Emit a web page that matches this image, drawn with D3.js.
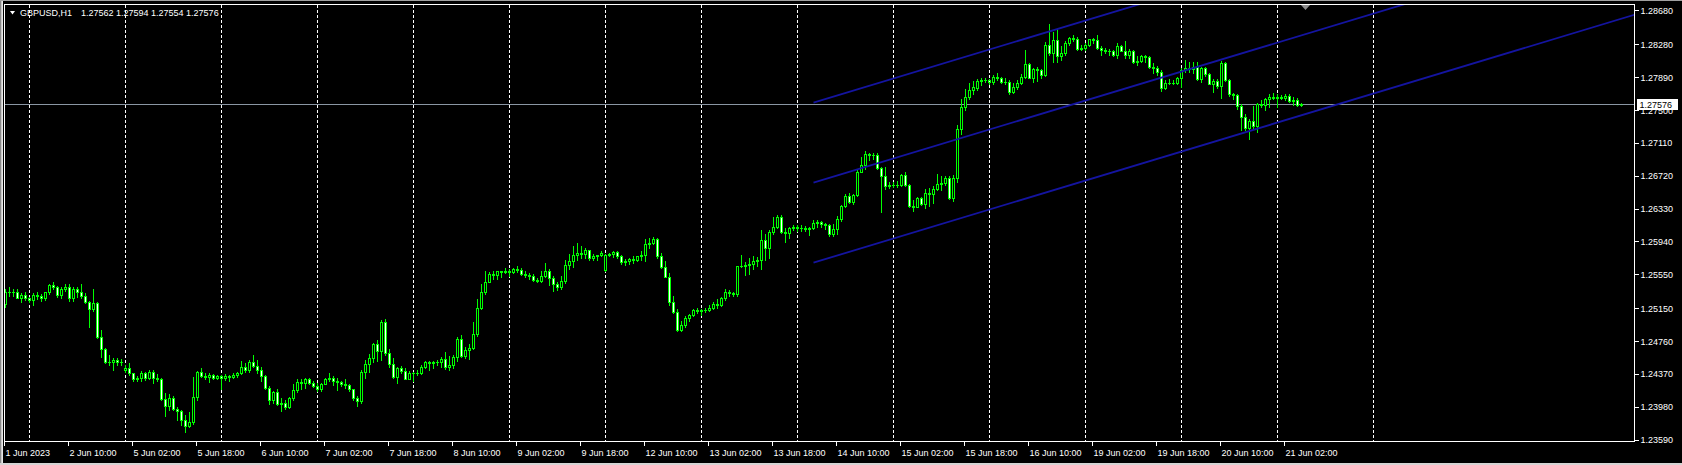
<!DOCTYPE html>
<html><head><meta charset="utf-8">
<script src="https://cdn.jsdelivr.net/npm/d3@7"></script>
<style>
html,body{margin:0;padding:0;background:#000;overflow:hidden}
svg{display:block}
text{font-family:"Liberation Sans",Arial,sans-serif;font-size:9px;fill:#fff}
</style>
</head><body><svg id="c" width="1682" height="465"></svg>
<script>
// ---- data: GBPUSD H1 candles (bar 0 = 1 Jun 2023 18:00) ----
const opens=[
1.2520,1.2535,1.2535,1.2535,1.2528,1.2531,1.2528,1.2525,1.2531,1.2530,
1.2528,1.2534,1.2543,1.2541,1.2531,1.2538,1.2540,1.2527,1.2538,1.2534,
1.2530,1.2523,1.2514,1.2522,1.2481,1.2467,1.2451,1.2452,1.2454,1.2452,
1.2442,1.2445,1.2438,1.2431,1.2432,1.2438,1.2432,1.2440,1.2432,1.2431,
1.2408,1.2399,1.2409,1.2396,1.2393,1.2383,1.2376,1.2380,1.2410,1.2440,
1.2435,1.2434,1.2436,1.2432,1.2435,1.2433,1.2435,1.2434,1.2436,1.2438,
1.2446,1.2442,1.2452,1.2447,1.2442,1.2435,1.2421,1.2406,1.2416,1.2402,
1.2403,1.2398,1.2409,1.2418,1.2428,1.2427,1.2431,1.2427,1.2423,1.2419,
1.2426,1.2431,1.2433,1.2429,1.2428,1.2426,1.2424,1.2419,1.2409,1.2405,
1.2440,1.2449,1.2456,1.2473,1.2464,1.2499,1.2462,1.2449,1.2434,1.2444,
1.2441,1.2431,1.2439,1.2438,1.2439,1.2446,1.2451,1.2450,1.2451,1.2452,
1.2455,1.2446,1.2448,1.2458,1.2479,1.2459,1.2466,1.2468,1.2485,1.2516,
1.2535,1.2546,1.2556,1.2555,1.2559,1.2558,1.2560,1.2558,1.2562,1.2561,
1.2556,1.2555,1.2554,1.2549,1.2548,1.2554,1.2560,1.2551,1.2544,1.2540,
1.2548,1.2567,1.2571,1.2578,1.2581,1.2580,1.2584,1.2575,1.2577,1.2578,
1.2561,1.2579,1.2580,1.2582,1.2577,1.2570,1.2571,1.2574,1.2573,1.2577,
1.2578,1.2591,1.2593,1.2597,1.2577,1.2564,1.2552,1.2523,1.2511,1.2489,
1.2496,1.2504,1.2507,1.2513,1.2512,1.2513,1.2513,1.2516,1.2520,1.2519,
1.2527,1.2535,1.2533,1.2532,1.2565,1.2566,1.2567,1.2568,1.2571,1.2573,
1.2596,1.2587,1.2606,1.2612,1.2624,1.2606,1.2604,1.2610,1.2612,1.2611,
1.2611,1.2609,1.2610,1.2617,1.2618,1.2615,1.2614,1.2603,1.2609,1.2621,
1.2637,1.2648,1.2641,1.2650,1.2677,1.2685,1.2698,1.2697,1.2697,1.2682,
1.2672,1.2660,1.2661,1.2662,1.2661,1.2673,1.2662,1.2637,1.2636,1.2646,
1.2639,1.2652,1.2651,1.2657,1.2663,1.2664,1.2670,1.2646,1.2670,1.2728,
1.2754,1.2766,1.2774,1.2777,1.2785,1.2786,1.2786,1.2784,1.2790,1.2789,
1.2784,1.2784,1.2772,1.2778,1.2783,1.2790,1.2805,1.2789,1.2799,1.2798,
1.2792,1.2828,1.2818,1.2834,1.2815,1.2818,1.2830,1.2836,1.2835,1.2823,
1.2824,1.2828,1.2835,1.2834,1.2824,1.2822,1.2821,1.2820,1.2816,1.2826,
1.2820,1.2816,1.2821,1.2808,1.2809,1.2814,1.2813,1.2801,1.2800,1.2796,
1.2777,1.2782,1.2782,1.2783,1.2789,1.2798,1.2800,1.2799,1.2802,1.2787,
1.2800,1.2793,1.2781,1.2785,1.2779,1.2806,1.2786,1.2769,1.2768,1.2755,
1.2742,1.2729,1.2737,1.2732,1.2758,1.2757,1.2763,1.2766,1.2765,1.2766,
1.2765,1.2767,1.2761,1.2762,1.27562];
const highs=[
1.2538,1.2541,1.2538,1.2538,1.2533,1.2534,1.2529,1.2533,1.2534,1.2532,
1.2535,1.2544,1.2546,1.2542,1.2540,1.2544,1.2544,1.2540,1.2540,1.2544,
1.2533,1.2524,1.2538,1.2523,1.2489,1.2468,1.2460,1.2456,1.2456,1.2455,
1.2448,1.2450,1.2438,1.2435,1.2441,1.2440,1.2442,1.2442,1.2437,1.2432,
1.2415,1.2413,1.2411,1.2398,1.2394,1.2389,1.2392,1.2434,1.2441,1.2445,
1.2438,1.2439,1.2437,1.2436,1.2436,1.2437,1.2436,1.2438,1.2440,1.2453,
1.2450,1.2454,1.2460,1.2454,1.2446,1.2436,1.2423,1.2417,1.2419,1.2409,
1.2407,1.2410,1.2425,1.2431,1.2431,1.2433,1.2433,1.2429,1.2427,1.2427,
1.2432,1.2438,1.2435,1.2432,1.2429,1.2431,1.2425,1.2420,1.2411,1.2442,
1.2454,1.2461,1.2474,1.2478,1.2501,1.2502,1.2467,1.2456,1.2446,1.2447,
1.2444,1.2441,1.2440,1.2442,1.2448,1.2453,1.2453,1.2453,1.2454,1.2457,
1.2463,1.2459,1.2460,1.2481,1.2483,1.2469,1.2473,1.2499,1.2526,1.2544,
1.2560,1.2558,1.2560,1.2560,1.2560,1.2563,1.2562,1.2563,1.2565,1.2563,
1.2560,1.2557,1.2556,1.2551,1.2560,1.2569,1.2562,1.2553,1.2547,1.2554,
1.2572,1.2580,1.2589,1.2593,1.2589,1.2587,1.2585,1.2580,1.2579,1.2583,
1.2580,1.2581,1.2583,1.2583,1.2579,1.2574,1.2575,1.2577,1.2577,1.2583,
1.2597,1.2599,1.2600,1.2599,1.2581,1.2571,1.2557,1.2530,1.2514,1.2500,
1.2506,1.2509,1.2514,1.2516,1.2515,1.2516,1.2519,1.2523,1.2526,1.2529,
1.2538,1.2537,1.2535,1.2566,1.2579,1.2570,1.2575,1.2577,1.2576,1.2608,
1.2603,1.2608,1.2623,1.2626,1.2626,1.2610,1.2612,1.2614,1.2614,1.2614,
1.2613,1.2612,1.2620,1.2620,1.2619,1.2617,1.2615,1.2615,1.2625,1.2638,
1.2651,1.2652,1.2651,1.2680,1.2695,1.2702,1.2700,1.2700,1.2699,1.2683,
1.2683,1.2665,1.2665,1.2666,1.2675,1.2677,1.2663,1.2644,1.2647,1.2647,
1.2657,1.2658,1.2660,1.2675,1.2672,1.2672,1.2672,1.2673,1.2733,1.2764,
1.2776,1.2782,1.2785,1.2787,1.2788,1.2788,1.2787,1.2792,1.2794,1.2790,
1.2788,1.2786,1.2782,1.2786,1.2793,1.2822,1.2806,1.2800,1.2802,1.2799,
1.2831,1.2852,1.2843,1.2847,1.2827,1.2832,1.2837,1.2839,1.2837,1.2828,
1.2830,1.2835,1.2836,1.2840,1.2826,1.2824,1.2823,1.2822,1.2830,1.2828,
1.2832,1.2823,1.2822,1.2815,1.2816,1.2816,1.2814,1.2806,1.2803,1.2798,
1.2786,1.2787,1.2786,1.2790,1.2800,1.2810,1.2808,1.2808,1.2808,1.2802,
1.2801,1.2795,1.2787,1.2787,1.2809,1.2808,1.2787,1.2771,1.2769,1.2758,
1.2746,1.2740,1.2755,1.2759,1.2762,1.2765,1.2770,1.2771,1.2769,1.2768,
1.2770,1.2769,1.2766,1.2765,1.27594];
const lows=[
1.2517,1.2530,1.2530,1.2527,1.2523,1.2525,1.2523,1.2519,1.2526,1.2524,
1.2525,1.2532,1.2538,1.2529,1.2527,1.2536,1.2524,1.2524,1.2529,1.2528,
1.2521,1.2493,1.2512,1.2480,1.2458,1.2450,1.2448,1.2442,1.2448,1.2448,
1.2440,1.2436,1.2429,1.2429,1.2429,1.2430,1.2431,1.2427,1.2429,1.2407,
1.2388,1.2394,1.2394,1.2383,1.2377,1.2369,1.2374,1.2378,1.2407,1.2434,
1.2431,1.2428,1.2431,1.2431,1.2419,1.2430,1.2429,1.2432,1.2434,1.2437,
1.2440,1.2440,1.2446,1.2439,1.2429,1.2420,1.2402,1.2403,1.2401,1.2393,
1.2396,1.2397,1.2407,1.2416,1.2419,1.2421,1.2425,1.2422,1.2417,1.2417,
1.2425,1.2429,1.2424,1.2418,1.2423,1.2421,1.2417,1.2406,1.2399,1.2403,
1.2432,1.2440,1.2451,1.2453,1.2454,1.2460,1.2446,1.2433,1.2427,1.2438,
1.2431,1.2431,1.2429,1.2436,1.2437,1.2444,1.2442,1.2445,1.2448,1.2446,
1.2443,1.2442,1.2445,1.2453,1.2457,1.2456,1.2455,1.2467,1.2482,1.2514,
1.2532,1.2546,1.2550,1.2550,1.2552,1.2557,1.2554,1.2557,1.2558,1.2555,
1.2552,1.2550,1.2548,1.2546,1.2546,1.2552,1.2543,1.2536,1.2537,1.2538,
1.2545,1.2562,1.2564,1.2573,1.2575,1.2575,1.2573,1.2573,1.2573,1.2577,
1.2560,1.2577,1.2576,1.2575,1.2568,1.2567,1.2568,1.2569,1.2571,1.2573,
1.2571,1.2587,1.2591,1.2575,1.2563,1.2552,1.2519,1.2510,1.2488,1.2488,
1.2493,1.2500,1.2506,1.2510,1.2507,1.2511,1.2512,1.2515,1.2516,1.2518,
1.2525,1.2530,1.2530,1.2530,1.2564,1.2555,1.2556,1.2562,1.2566,1.2562,
1.2573,1.2575,1.2603,1.2611,1.2604,1.2594,1.2599,1.2608,1.2607,1.2607,
1.2607,1.2602,1.2609,1.2612,1.2612,1.2609,1.2601,1.2601,1.2603,1.2619,
1.2635,1.2640,1.2639,1.2648,1.2677,1.2680,1.2691,1.2692,1.2681,1.2629,
1.2657,1.2658,1.2659,1.2659,1.2660,1.2660,1.2636,1.2631,1.2635,1.2638,
1.2634,1.2637,1.2640,1.2656,1.2656,1.2661,1.2645,1.2642,1.2665,1.2722,
1.2750,1.2764,1.2770,1.2774,1.2780,1.2784,1.2781,1.2781,1.2786,1.2782,
1.2781,1.2770,1.2771,1.2776,1.2781,1.2788,1.2788,1.2784,1.2785,1.2789,
1.2791,1.2816,1.2808,1.2807,1.2810,1.2816,1.2828,1.2832,1.2822,1.2822,
1.2822,1.2827,1.2830,1.2823,1.2816,1.2818,1.2816,1.2814,1.2812,1.2820,
1.2812,1.2812,1.2806,1.2804,1.2808,1.2808,1.2800,1.2795,1.2792,1.2773,
1.2775,1.2781,1.2781,1.2781,1.2778,1.2796,1.2796,1.2794,1.2786,1.2784,
1.2791,1.2781,1.2772,1.2777,1.2765,1.2785,1.2767,1.2764,1.2752,1.2727,
1.2727,1.2716,1.2729,1.2724,1.2754,1.2750,1.2754,1.2764,1.2754,1.2763,
1.2762,1.2760,1.2757,1.2755,1.27554];
const closes=[
1.2535,1.2535,1.2535,1.2528,1.2531,1.2528,1.2525,1.2531,1.2530,1.2528,
1.2534,1.2543,1.2541,1.2531,1.2538,1.2540,1.2527,1.2538,1.2534,1.2530,
1.2523,1.2514,1.2522,1.2481,1.2467,1.2451,1.2452,1.2454,1.2452,1.2451,
1.2445,1.2438,1.2431,1.2432,1.2438,1.2432,1.2440,1.2432,1.2431,1.2408,
1.2399,1.2409,1.2396,1.2393,1.2383,1.2376,1.2380,1.2410,1.2440,1.2435,
1.2434,1.2436,1.2432,1.2435,1.2433,1.2435,1.2434,1.2436,1.2438,1.2446,
1.2442,1.2452,1.2447,1.2442,1.2435,1.2421,1.2406,1.2416,1.2402,1.2403,
1.2398,1.2409,1.2418,1.2428,1.2427,1.2431,1.2427,1.2423,1.2419,1.2426,
1.2431,1.2433,1.2429,1.2428,1.2426,1.2424,1.2419,1.2409,1.2405,1.2440,
1.2449,1.2456,1.2473,1.2464,1.2499,1.2462,1.2449,1.2434,1.2444,1.2441,
1.2431,1.2439,1.2438,1.2439,1.2446,1.2451,1.2450,1.2451,1.2452,1.2455,
1.2446,1.2448,1.2458,1.2479,1.2459,1.2466,1.2468,1.2485,1.2516,1.2535,
1.2546,1.2556,1.2555,1.2559,1.2558,1.2560,1.2558,1.2562,1.2561,1.2556,
1.2555,1.2554,1.2549,1.2548,1.2554,1.2560,1.2551,1.2544,1.2540,1.2548,
1.2567,1.2571,1.2578,1.2581,1.2580,1.2584,1.2575,1.2577,1.2578,1.2581,
1.2579,1.2580,1.2582,1.2577,1.2570,1.2571,1.2574,1.2573,1.2577,1.2578,
1.2591,1.2593,1.2597,1.2577,1.2564,1.2552,1.2523,1.2511,1.2489,1.2496,
1.2504,1.2507,1.2513,1.2512,1.2513,1.2513,1.2516,1.2520,1.2519,1.2527,
1.2535,1.2533,1.2532,1.2565,1.2566,1.2567,1.2568,1.2571,1.2573,1.2596,
1.2587,1.2606,1.2612,1.2624,1.2606,1.2604,1.2610,1.2612,1.2611,1.2611,
1.2609,1.2610,1.2617,1.2618,1.2615,1.2614,1.2603,1.2609,1.2621,1.2637,
1.2648,1.2641,1.2650,1.2677,1.2685,1.2698,1.2697,1.2697,1.2682,1.2672,
1.2660,1.2661,1.2662,1.2661,1.2673,1.2662,1.2637,1.2636,1.2646,1.2639,
1.2652,1.2651,1.2657,1.2663,1.2664,1.2670,1.2646,1.2670,1.2728,1.2754,
1.2766,1.2774,1.2778,1.2785,1.2786,1.2786,1.2784,1.2790,1.2789,1.2784,
1.2784,1.2772,1.2778,1.2783,1.2790,1.2805,1.2789,1.2799,1.2798,1.2792,
1.2828,1.2818,1.2834,1.2815,1.2818,1.2830,1.2836,1.2835,1.2823,1.2824,
1.2828,1.2835,1.2834,1.2824,1.2822,1.2821,1.2820,1.2816,1.2826,1.2820,
1.2816,1.2821,1.2808,1.2809,1.2814,1.2813,1.2801,1.2800,1.2796,1.2777,
1.2782,1.2782,1.2783,1.2789,1.2798,1.2800,1.2799,1.2802,1.2787,1.2800,
1.2793,1.2781,1.2785,1.2779,1.2806,1.2786,1.2769,1.2768,1.2755,1.2742,
1.2729,1.2737,1.2732,1.2758,1.2757,1.2763,1.2766,1.2765,1.2766,1.2765,
1.2767,1.2761,1.2762,1.2756,1.27576];

const timeLabels=["1 Jun 2023","2 Jun 10:00","5 Jun 02:00","5 Jun 18:00","6 Jun 10:00","7 Jun 02:00",
"7 Jun 18:00","8 Jun 10:00","9 Jun 02:00","9 Jun 18:00","12 Jun 10:00","13 Jun 02:00","13 Jun 18:00",
"14 Jun 10:00","15 Jun 02:00","15 Jun 18:00","16 Jun 10:00","19 Jun 02:00","19 Jun 18:00","20 Jun 10:00","21 Jun 02:00"];
const timeLabelBars=[0,16,32,48,64,80,96,112,128,144,160,176,192,208,224,240,256,272,288,304,320];
const daySeparatorBars=[6,30,54,78,102,126,150,174,198,222,246,270,294,318,342];
const priceTicks=[1.28680,1.28280,1.27890,1.27500,1.27110,1.26720,1.26330,1.25940,1.25550,1.25150,1.24760,1.24370,1.23980,1.23590];
// equidistant channel: middle line anchors (bar, price) and half-offset to the outer lines
const channelBars=[202,302];
const channelMid=[1.26643,1.28076];
const channelOffset=0.00949;
const symbol="GBPUSD,H1";
const lastOHLC=[1.27562,1.27594,1.27554,1.27576];
const bidPrice=1.27576;

// ---- layout ----
const W=1682,H=465;
const P={l:4.5,t:4.5,r:1634.5,b:441.5};
const svg=d3.select("#c");
const x=d3.scaleLinear().domain([0,324]).range([5.5,1301.5]);
const y=d3.scaleLinear().domain([1.2359,1.2868]).range([440,10.97]);

svg.append("rect").attr("width",W).attr("height",H).attr("fill","#000");
// window borders
svg.append("rect").attr("x",0).attr("y",0).attr("width",1).attr("height",H).attr("fill","#8a8a8a");
svg.append("rect").attr("x",1).attr("y",0).attr("width",1).attr("height",H).attr("fill","#c8c8c8");
svg.append("rect").attr("x",2).attr("y",0).attr("width",1).attr("height",H).attr("fill","#e6e6e6");
svg.append("rect").attr("x",0).attr("y",0).attr("width",W).attr("height",1).attr("fill","#a0a0a0");
svg.append("rect").attr("x",0).attr("y",463).attr("width",W).attr("height",2).attr("fill","#d4d4d4");

svg.append("defs").append("clipPath").attr("id","pc")
  .append("rect").attr("x",P.l+0.5).attr("y",P.t+0.5).attr("width",P.r-P.l-1).attr("height",P.b-P.t-1);
const plot=svg.append("g").attr("clip-path","url(#pc)");

// day separators (dashed)
plot.selectAll("line.sep").data(daySeparatorBars).join("line").attr("class","sep")
  .attr("x1",d=>x(d)).attr("x2",d=>x(d)).attr("y1",P.t).attr("y2",P.b)
  .attr("stroke","#fff").attr("stroke-width",1).attr("stroke-dasharray","3,2")
  .attr("shape-rendering","crispEdges");

// bid line
const by=Math.round(y(bidPrice))+0.5;
plot.append("line").attr("x1",P.l).attr("x2",P.r).attr("y1",by).attr("y2",by)
  .attr("stroke","#8a96a3").attr("stroke-width",1).attr("shape-rendering","crispEdges");

// candles
const N=closes.length;
const cg=plot.append("g");
for(let i=0;i<N;i++){
  const o=opens[i],h=highs[i],l=lows[i],c=closes[i];
  const cx=x(i);
  const top=Math.round(y(Math.max(h,o,c))), bot=Math.round(y(Math.min(l,o,c)));
  cg.append("line").attr("x1",cx).attr("x2",cx).attr("y1",top).attr("y2",bot+1)
    .attr("stroke","#00ff00").attr("stroke-width",1).attr("shape-rendering","crispEdges");
  const bt=Math.round(y(Math.max(o,c))), bb=Math.round(y(Math.min(o,c)));
  if(bb-bt<1){
    cg.append("line").attr("x1",cx-1.5).attr("x2",cx+1.5).attr("y1",bt+0.5).attr("y2",bt+0.5)
      .attr("stroke","#00ff00").attr("stroke-width",1).attr("shape-rendering","crispEdges");
  } else {
    cg.append("rect").attr("x",cx-1).attr("y",bt+0.5).attr("width",2).attr("height",bb-bt)
      .attr("fill",c>=o?"#000":"#fff").attr("stroke","#00ff00").attr("stroke-width",1)
      .attr("shape-rendering","crispEdges");
  }
}

// channel lines
const slope=(channelMid[1]-channelMid[0])/(channelBars[1]-channelBars[0]);
const endBar=x.invert(P.r+2);
[channelOffset,0,-channelOffset].forEach(off=>{
  const p0=channelMid[0]+off, p1=channelMid[0]+off+slope*(endBar-channelBars[0]);
  plot.append("line").attr("x1",x(channelBars[0])).attr("y1",y(p0))
    .attr("x2",x(endBar)).attr("y2",y(p1))
    .attr("stroke","#1414a0").attr("stroke-width",1.8);
});

// shift marker
svg.append("path").attr("d","M1301,5 L1310,5 L1305.5,10 Z").attr("fill","#8c8c8c");

// frame
svg.append("rect").attr("x",P.l).attr("y",P.t).attr("width",P.r-P.l).attr("height",P.b-P.t)
  .attr("fill","none").attr("stroke","#fff").attr("stroke-width",1).attr("shape-rendering","crispEdges");

// price axis
const ya=svg.append("g").attr("transform",`translate(${P.r},0)`)
  .call(d3.axisRight(y).tickValues(priceTicks).tickFormat(d=>d.toFixed(5)).tickSize(4).tickPadding(2).offset(0));
ya.select(".domain").remove();
ya.selectAll(".tick line").attr("stroke","#fff").attr("shape-rendering","crispEdges");
ya.selectAll(".tick text").attr("fill","#fff").attr("font-family",null).attr("font-size",null).attr("dy","0.35em");

// bid label
svg.append("rect").attr("x",1637).attr("y",by-5.5).attr("width",41).attr("height",11).attr("fill","#fff");
svg.append("text").attr("x",1639.5).attr("y",by).attr("dy","0.35em").style("fill","#000").text(bidPrice.toFixed(5));

// time axis
const xa=svg.append("g").attr("transform",`translate(0,${P.b})`)
  .call(d3.axisBottom(x).tickValues(timeLabelBars).tickFormat((d,i)=>timeLabels[i]).tickSize(4).offset(-1));
xa.select(".domain").remove();
xa.selectAll(".tick line").attr("stroke","#fff").attr("shape-rendering","crispEdges");
xa.selectAll(".tick text").attr("fill","#fff").attr("font-family",null).attr("font-size",null)
  .attr("text-anchor","start").attr("x",1).attr("y",14).attr("dy",null);

// title
svg.append("path").attr("d","M10,11 L15,11 L12.5,14.5 Z").attr("fill","#fff");
svg.append("text").attr("x",20).attr("y",16).text(symbol);
svg.append("text").attr("x",81).attr("y",16).text(lastOHLC.map(v=>v.toFixed(5)).join(" "));
</script>
</body></html>
